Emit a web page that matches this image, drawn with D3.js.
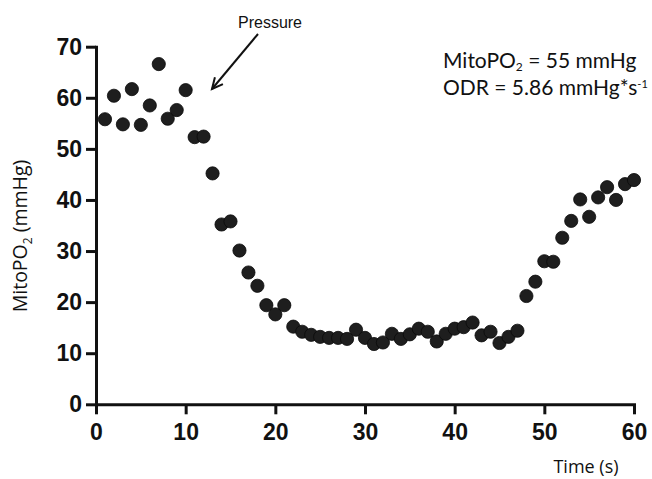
<!DOCTYPE html>
<html>
<head>
<meta charset="utf-8">
<script src="https://cdn.jsdelivr.net/npm/d3@7"></script>
<style>
  html, body { margin: 0; padding: 0; background: #fff; }
  svg { display: block; }
</style>
</head>
<body>
<div id="chart"></div>
<script>
// ---- Data ----
const timeSec = [1,2,3,4,5,6,7,8,9,10,11,12,13,14,15,16,17,18,19,20,
  21,22,23,24,25,26,27,28,29,30,31,32,33,34,35,36,37,38,39,40,
  41,42,43,44,45,46,47,48,49,50,51,52,53,54,55,56,57,58,59,60];
const mitoPO2 = [55.8,60.4,54.8,61.7,54.7,58.5,66.6,55.9,57.6,61.5,
  52.3,52.4,45.2,35.2,35.8,30.1,25.8,23.2,19.4,17.6,
  19.4,15.2,14.2,13.6,13.2,13.0,13.0,12.8,14.6,13.0,
  11.8,12.1,13.8,12.8,13.7,14.8,14.2,12.3,13.8,14.8,
  15.1,16.0,13.5,14.2,12.0,13.2,14.4,21.2,24.0,28.0,
  27.9,32.6,35.9,40.1,36.7,40.5,42.5,40.0,43.1,43.9];
const xTicks = [0,10,20,30,40,50,60];
const yTicks = [0,10,20,30,40,50,60,70];

// ---- Layout ----
const W = 652, H = 479;
const svg = d3.select("#chart").append("svg").attr("width", W).attr("height", H);

const x = d3.scaleLinear().domain([0, 60]).range([96, 634]);
const y = d3.scaleLinear().domain([0, 70]).range([404.3, 46.7]);

// Axes
const xAxis = d3.axisBottom(x).tickValues(xTicks).tickSize(10).tickSizeOuter(0).tickPadding(9);
const yAxis = d3.axisLeft(y).tickValues(yTicks).tickSize(10).tickSizeOuter(0).tickPadding(4);

const gx = svg.append("g").attr("transform", `translate(0,${y(0)})`).call(xAxis);
const gy = svg.append("g").attr("transform", `translate(${x(0)},0)`).call(yAxis);

[gx, gy].forEach(g => {
  g.select(".domain").attr("stroke", "#111").attr("stroke-width", 3).attr("stroke-linecap", "square");
  g.selectAll(".tick line").attr("stroke", "#111").attr("stroke-width", 3);
  g.selectAll(".tick text")
    .attr("fill", "#111")
    .style("font-family", "'Liberation Sans', Arial, sans-serif")
    .style("font-weight", "bold")
    .style("font-size", "23px");
});

// Points
svg.append("g").selectAll("circle")
  .data(timeSec.map((t, i) => ({ t, v: mitoPO2[i] })))
  .join("circle")
  .attr("cx", d => x(d.t))
  .attr("cy", d => y(d.v))
  .attr("r", 6.6)
  .attr("fill", "#1e1e1e")
  .attr("stroke", "#0a0a0a")
  .attr("stroke-width", 0.8);

// Y label
const yl = svg.append("text")
  .attr("transform", `translate(27,236) rotate(-90)`)
  .attr("text-anchor", "middle")
  .style("font-family", "'Open Sans', 'Liberation Sans', Arial, sans-serif")
  .style("font-size", "19.5px")
  .attr("fill", "#111");
yl.append("tspan").text("MitoPO");
yl.append("tspan").attr("dy", 5).style("font-size", "12px").text("2");
yl.append("tspan").attr("dy", -5).text(" (mmHg)");

// X label
svg.append("text")
  .attr("x", 586).attr("y", 473)
  .attr("text-anchor", "middle")
  .style("font-family", "'Open Sans', 'Liberation Sans', Arial, sans-serif")
  .style("font-size", "18px")
  .attr("fill", "#111")
  .text("Time (s)");

// Pressure annotation
svg.append("text")
  .attr("x", 270).attr("y", 28)
  .attr("text-anchor", "middle")
  .style("font-family", "'Liberation Sans', Arial, sans-serif")
  .style("font-size", "16px")
  .attr("fill", "#111")
  .text("Pressure");

const ax1 = 258, ay1 = 34, ax2 = 212, ay2 = 89;
svg.append("line")
  .attr("x1", ax1).attr("y1", ay1).attr("x2", ax2).attr("y2", ay2)
  .attr("stroke", "#111").attr("stroke-width", 2);
const ang = Math.atan2(ay2 - ay1, ax2 - ax1);
const hl = 12, spread = 0.45;
svg.append("path")
  .attr("d", `M${ax2 - hl * Math.cos(ang - spread)},${ay2 - hl * Math.sin(ang - spread)} L${ax2},${ay2} L${ax2 - hl * Math.cos(ang + spread)},${ay2 - hl * Math.sin(ang + spread)}`)
  .attr("fill", "none").attr("stroke", "#111").attr("stroke-width", 2);

// Result annotations
const t1 = svg.append("text")
  .attr("x", 443).attr("y", 68)
  .style("font-family", "Lato, 'Liberation Sans', sans-serif")
  .style("font-size", "21px")
  .attr("fill", "#111");
t1.append("tspan").text("MitoPO");
t1.append("tspan").attr("dy", 3).style("font-size", "12px").text("2");
t1.append("tspan").attr("dy", -3).text(" = 55 mmHg");

const t2 = svg.append("text")
  .attr("x", 443).attr("y", 95)
  .style("font-family", "Lato, 'Liberation Sans', sans-serif")
  .style("font-size", "21px")
  .attr("fill", "#111");
t2.append("tspan").text("ODR = 5.86 mmHg*s");
t2.append("tspan").attr("dy", -7).style("font-size", "11px").text("-1");
</script>
</body>
</html>
